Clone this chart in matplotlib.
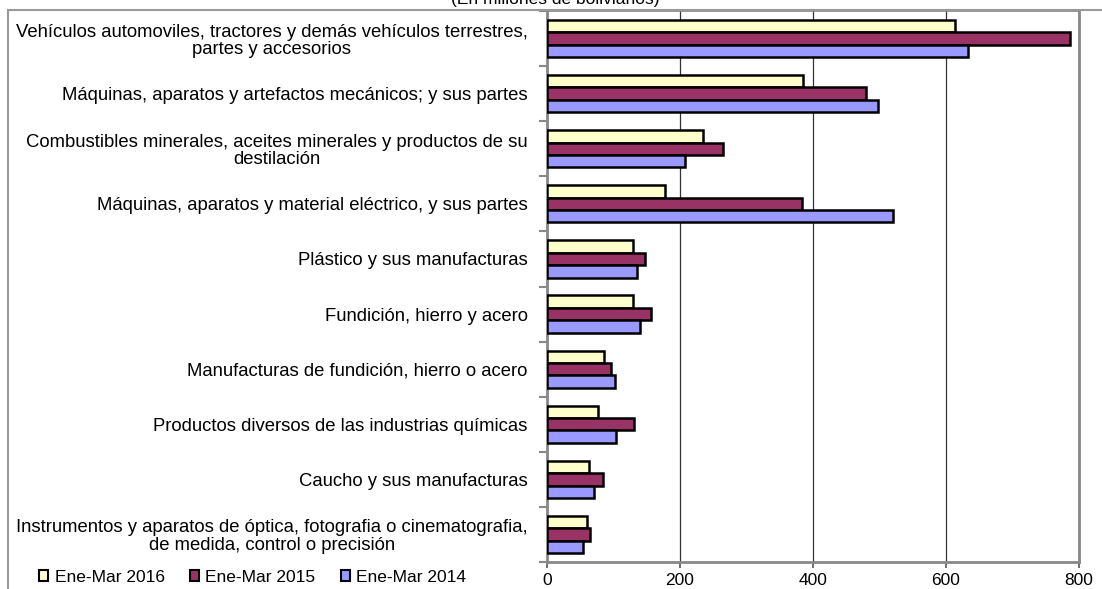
import numpy as np
import matplotlib.pyplot as plt
from matplotlib.patches import Patch, Rectangle

plt.rcParams['font.family'] = ['Liberation Sans', 'DejaVu Sans']

categorias = [
    "Vehículos automoviles, tractores y demás vehículos terrestres,\npartes y accesorios",
    "Máquinas, aparatos y artefactos mecánicos; y sus partes",
    "Combustibles minerales, aceites minerales y productos de su\ndestilación",
    "Máquinas, aparatos y material eléctrico, y sus partes",
    "Plástico y sus manufacturas",
    "Fundición, hierro y acero",
    "Manufacturas de fundición, hierro o acero",
    "Productos diversos de las industrias químicas",
    "Caucho y sus manufacturas",
    "Instrumentos y aparatos de óptica, fotografia o cinematografia,\nde medida, control o precisión",
]
ene_mar_2016 = [613, 385, 234, 177, 130, 129, 86, 76, 63, 60]
ene_mar_2015 = [786, 480, 265, 384, 147, 157, 96, 131, 84, 65]
ene_mar_2014 = [633, 498, 208, 520, 135, 140, 103, 104, 70, 54]
series = ["Ene-Mar 2016", "Ene-Mar 2015", "Ene-Mar 2014"]
colores = ["#FFFFCC", "#993366", "#9999FF"]
x_ticks = [0, 200, 400, 600, 800]

W, H = 1102, 589
fig = plt.figure(figsize=(W / 100, H / 100), dpi=100)
ax = fig.add_axes([547 / W, (H - 562) / H, (1079 - 547) / W, (562 - 11) / H])

y = np.arange(len(categorias))
h = 0.225
for k, vals in enumerate([ene_mar_2016, ene_mar_2015, ene_mar_2014]):
    ax.barh(y + (k - 1) * h, vals, height=h, color=colores[k],
            edgecolor='black', linewidth=1.8, zorder=3)

ax.set_xlim(0, 800)
ax.set_ylim(len(categorias) - 0.5, -0.5)
ax.set_xticks(x_ticks)
ax.set_xticklabels([str(v) for v in x_ticks], fontsize=12.5)
ax.tick_params(axis='x', length=4, width=1.2, color='#555555', pad=4)
ax.grid(axis='x', color='#333333', linewidth=0.9, zorder=0)

ax.set_yticks(np.arange(len(categorias) + 1) - 0.5)
ax.set_yticklabels([])
ax.tick_params(axis='y', which='major', length=6, width=1.5, color='#888888')
ax.set_yticks(y, minor=True)
ax.set_yticklabels(categorias, minor=True, fontsize=13.3)
ax.tick_params(axis='y', which='minor', length=0, pad=14)
for lbl in ax.get_yticklabels(minor=True):
    lbl.set_multialignment('center')
    lbl.set_linespacing(1.05)

for s in ['left', 'bottom', 'right']:
    ax.spines[s].set_color('#888888')
    ax.spines[s].set_linewidth(2)
ax.spines['top'].set_color('#888888')
ax.spines['top'].set_linewidth(1.2)

# marco exterior
fig.patches.append(Rectangle((8 / W, -0.05), 1.2, (H - 10) / H + 0.05,
                             transform=fig.transFigure, fill=False,
                             edgecolor='#999999', linewidth=1.5))

fig.text(555 / W, (H - 4) / H, "(En millones de bolivianos)", ha='center',
         va='baseline', fontsize=12.5)

handles = [Patch(facecolor=c, edgecolor='black', linewidth=1.5) for c in colores]
fig.legend(handles, series, loc='center left', bbox_to_anchor=(32 / W, 12 / H),
           ncol=3, frameon=False, fontsize=12.5, handlelength=0.55,
           handleheight=0.55, handletextpad=0.35, columnspacing=1.45,
           borderaxespad=0)

fig.savefig('out.png', dpi=100)
